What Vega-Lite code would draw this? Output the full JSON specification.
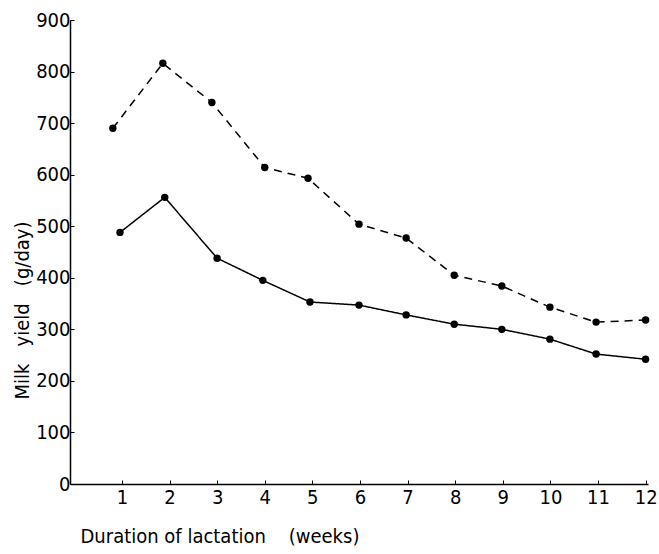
{
  "$schema": "https://vega.github.io/schema/vega-lite/v6.json",
  "width": 578,
  "height": 464,
  "autosize": {"type": "none"},
  "padding": {"left": 70, "top": 20, "right": 11, "bottom": 70},
  "background": "white",
  "config": {
    "view": {"stroke": null},
    "font": "DejaVu Sans Condensed"
  },
  "data": {
    "values": [
      {"week": 0.81, "yield": 690, "series": "dashed"},
      {"week": 1.86, "yield": 816, "series": "dashed"},
      {"week": 2.89, "yield": 740, "series": "dashed"},
      {"week": 4.0, "yield": 614, "series": "dashed"},
      {"week": 4.91, "yield": 593, "series": "dashed"},
      {"week": 5.98, "yield": 504, "series": "dashed"},
      {"week": 6.97, "yield": 477, "series": "dashed"},
      {"week": 7.98, "yield": 405, "series": "dashed"},
      {"week": 8.98, "yield": 384, "series": "dashed"},
      {"week": 9.99, "yield": 343, "series": "dashed"},
      {"week": 10.96, "yield": 314, "series": "dashed"},
      {"week": 12.0, "yield": 318, "series": "dashed"},
      {"week": 0.96, "yield": 488, "series": "solid"},
      {"week": 1.9, "yield": 556, "series": "solid"},
      {"week": 3.0, "yield": 438, "series": "solid"},
      {"week": 3.96, "yield": 395, "series": "solid"},
      {"week": 4.95, "yield": 353, "series": "solid"},
      {"week": 5.98, "yield": 347, "series": "solid"},
      {"week": 6.97, "yield": 328, "series": "solid"},
      {"week": 7.98, "yield": 310, "series": "solid"},
      {"week": 8.98, "yield": 300, "series": "solid"},
      {"week": 9.99, "yield": 281, "series": "solid"},
      {"week": 10.96, "yield": 252, "series": "solid"},
      {"week": 12.0, "yield": 242, "series": "solid"}
    ]
  },
  "encoding": {
    "x": {
      "field": "week",
      "type": "quantitative",
      "scale": {"domain": [-0.09, 12.05], "nice": false, "zero": false},
      "axis": {
        "values": [1, 2, 3, 4, 5, 6, 7, 8, 9, 10, 11, 12],
        "grid": false,
        "domainColor": "black",
        "domainWidth": 1.5,
        "tickColor": "black",
        "tickSize": -4,
        "labelPadding": 7,
        "labelFontSize": 20,
        "labelColor": "black",
        "title": "Duration of lactation \u00a0 \u00a0(weeks)",
        "titleFontSize": 20,
        "titleFontWeight": "normal",
        "titleColor": "black",
        "titleAnchor": "start",
        "titleAlign": "left",
        "titleBaseline": "top",
        "titleX": 10,
        "titleY": 42
      }
    },
    "y": {
      "field": "yield",
      "type": "quantitative",
      "scale": {"domain": [0, 900], "nice": false},
      "axis": {
        "values": [0, 100, 200, 300, 400, 500, 600, 700, 800, 900],
        "grid": false,
        "domainColor": "black",
        "domainWidth": 1.5,
        "tickColor": "black",
        "tickSize": -4,
        "labelPadding": 4,
        "labelFontSize": 20,
        "labelColor": "black",
        "title": "Milk \u00a0 yield \u00a0 (g/day)",
        "titleFontSize": 20,
        "titleFontWeight": "normal",
        "titleColor": "black",
        "titleX": -38,
        "titleY": 290,
        "titleAlign": "center",
        "titleAngle": 270
      }
    }
  },
  "layer": [
    {
      "mark": {"type": "line", "color": "black", "strokeWidth": 1.5},
      "encoding": {
        "detail": {"field": "series"},
        "strokeDash": {
          "field": "series",
          "type": "nominal",
          "scale": {"domain": ["dashed", "solid"], "range": [[8, 6], [1, 0]]},
          "legend": null
        }
      }
    },
    {
      "mark": {"type": "point", "filled": true, "color": "black", "size": 55, "opacity": 1},
      "encoding": {"detail": {"field": "series"}}
    }
  ]
}
